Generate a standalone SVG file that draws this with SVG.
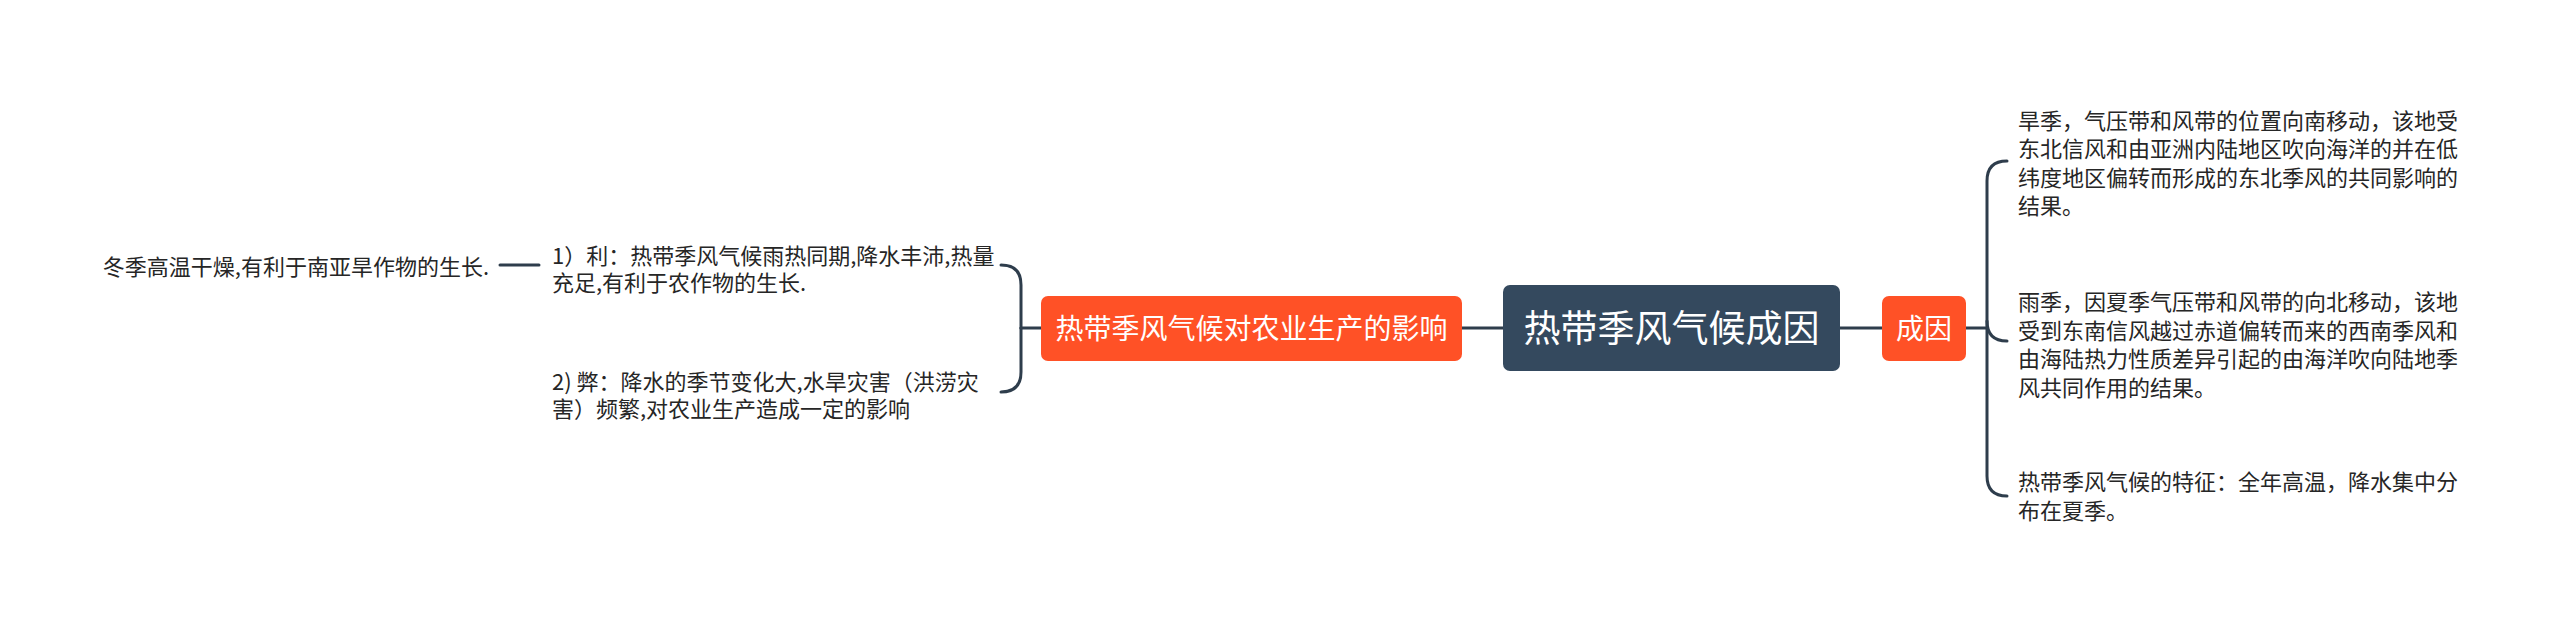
<svg xmlns="http://www.w3.org/2000/svg" width="2560" height="629" viewBox="0 0 2560 629">
<style>
.bg{fill:#ffffff}
.ln{fill:none;stroke:#2e3d4c;stroke-width:3;stroke-linecap:round}
.t{font-family:"Noto Sans CJK SC","Noto Sans",sans-serif;font-size:22px;fill:#262626}
.nt{font-family:"Noto Sans CJK SC","Noto Sans",sans-serif;fill:#ffffff;text-anchor:middle}
.org{fill:#ff5126}
.ctr{fill:#34495e}
</style>
<rect class="bg" x="0" y="0" width="2560" height="629"/>
<g id="connectors">
<path class="ln" d="M1462,328 H1503"/>
<path class="ln" d="M1840,328 H1882"/>
<path class="ln" d="M1966,328 H1987"/>
<path class="ln" d="M1987,328 V181 Q1987,161 2007,161"/>
<path class="ln" d="M1987,321 Q1987,341 2007,341"/>
<path class="ln" d="M1987,328 V476 Q1987,496 2007,496"/>
<path class="ln" d="M1041,328 H1021"/>
<path class="ln" d="M1021,328 V285 Q1021,265 1001,265"/>
<path class="ln" d="M1021,328 V372 Q1021,392 1001,392"/>
<path class="ln" d="M500,265 H539"/>
</g>
<g id="center">
<rect class="ctr" x="1503" y="285" width="337" height="86" rx="7"/>
<text class="nt" x="1671.5" y="342" font-size="37">热带季风气候成因</text>
</g>
<g id="cause">
<rect class="org" x="1882" y="296" width="84" height="65" rx="7"/>
<text class="nt" x="1924" y="338.5" font-size="28">成因</text>
</g>
<g id="impact">
<rect class="org" x="1041" y="296" width="421" height="65" rx="7"/>
<text class="nt" x="1251.5" y="338.5" font-size="28">热带季风气候对农业生产的影响</text>
</g>
<g id="cause-1">
<text class="t" x="2018" y="128.6">旱季，气压带和风带的位置向南移动，该地受<tspan x="2018" dy="28.5">东北信风和由亚洲内陆地区吹向海洋的并在低</tspan><tspan x="2018" dy="28.5">纬度地区偏转而形成的东北季风的共同影响的</tspan><tspan x="2018" dy="28.5">结果。</tspan></text>
</g>
<g id="cause-2">
<text class="t" x="2018" y="310">雨季，因夏季气压带和风带的向北移动，该地<tspan x="2018" dy="28.5">受到东南信风越过赤道偏转而来的西南季风和</tspan><tspan x="2018" dy="28.5">由海陆热力性质差异引起的由海洋吹向陆地季</tspan><tspan x="2018" dy="28.5">风共同作用的结果。</tspan></text>
</g>
<g id="cause-3">
<text class="t" x="2018" y="490">热带季风气候的特征：全年高温，降水集中分<tspan x="2018" dy="28.5">布在夏季。</tspan></text>
</g>
<g id="impact-1">
<text class="t" x="552" y="263.5">1）利：热带季风气候雨热同期,降水丰沛,热量<tspan x="552" dy="27">充足,有利于农作物的生长.</tspan></text>
</g>
<g id="impact-2">
<text class="t" x="552" y="390">2) 弊：降水的季节变化大,水旱灾害（洪涝灾<tspan x="552" dy="27">害）频繁,对农业生产造成一定的影响</tspan></text>
</g>
<g id="impact-1-1">
<text class="t" x="489" y="275" text-anchor="end">冬季高温干燥,有利于南亚旱作物的生长.</text>
</g>
</svg>
